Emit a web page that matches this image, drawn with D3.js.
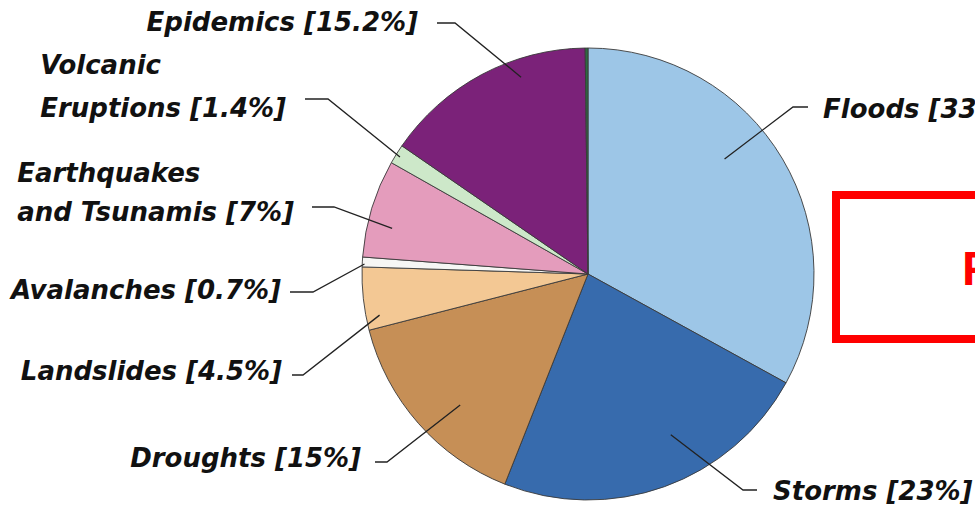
<!DOCTYPE html>
<html><head><meta charset="utf-8">
<script src="https://cdn.jsdelivr.net/npm/d3@7"></script>
<style>
html,body{margin:0;padding:0;background:#fff;overflow:hidden;}
svg{display:block;}
.lbl{font-family:"DejaVu Sans",sans-serif;font-weight:bold;font-style:italic;font-size:26px;fill:#111;}
</style></head>
<body>
<svg id="chart" width="975" height="509"></svg>
<script>
// Data
const categories = ["Floods","Storms","Droughts","Landslides","Avalanches","Earthquakes and Tsunamis","Volcanic Eruptions","Epidemics","Other"];
const shares = [33, 23, 15, 4.5, 0.7, 7, 1.4, 15.2, 0.2];
const labelLines = [
  ["Floods [33%]"],
  ["Storms [23%]"],
  ["Droughts [15%]"],
  ["Landslides [4.5%]"],
  ["Avalanches [0.7%]"],
  ["Earthquakes","and Tsunamis [7%]"],
  ["Volcanic","Eruptions [1.4%]"],
  ["Epidemics [15.2%]"],
  null
];
const colors = ["#9dc6e7","#376bad","#c68f56","#f3c894","#f6f6f4","#e49cbc","#cde8c9","#7b2279","#2c6b42"];

// Layout for labels (text position, leader line)
// side: "L" text right-aligned ending at x; "R" text starts at x
const labelLayout = [
  {side:"R", x:823, y:118, lineY:107, x0:808, x1:793, af:0.42, rf:0.79},
  {side:"R", x:773, y:500, lineY:490, x0:757, x1:743, af:0.41, rf:0.80},
  {side:"L", x:361, y:467, lineY:462, x0:375, x1:387, af:0.42, rf:0.81},
  {side:"L", x:282, y:380, lineY:375, x0:292, x1:303, af:0.20, rf:0.94},
  {side:"L", x:281, y:299, lineY:292, x0:290, x1:313, af:0.30, rf:0.99},
  {side:"L", x:294, y:221, lineY:207, x0:312, x1:334, af:0.35, rf:0.89, lh:39},
  {side:"L", x:286, y:117, lineY:99,  x0:305, x1:328, af:0.47, rf:0.98, lh:43},
  {side:"L", x:418, y:31,  lineY:23,  x0:437, x1:455, af:0.67, rf:0.92},
  null
];

const cx = 588, cy = 274, R = 226;
const svg = d3.select("#chart");

// red frame (partially outside view)
svg.append("rect").attr("x",836).attr("y",195).attr("width",300).attr("height",144)
  .attr("fill","#fff").attr("stroke","#ff0000").attr("stroke-width",8);
svg.append("text").attr("x",962).attr("y",285)
  .attr("font-family","'Liberation Sans Narrow','Liberation Sans',sans-serif")
  .attr("font-weight","bold").attr("font-size",48).attr("fill","#ff0000").text("F");

const pie = d3.pie().sort(null).value(d=>d).startAngle(0).endAngle(2*Math.PI);
const arcs = pie(shares);
const arc = d3.arc().innerRadius(0).outerRadius(R);

const g = svg.append("g").attr("transform",`translate(${cx},${cy})`);
g.selectAll("path").data(arcs).join("path")
  .attr("d",arc)
  .attr("fill",(d,i)=>colors[i])
  .attr("stroke","#3a3a3a").attr("stroke-width",0.9).attr("stroke-linejoin","round");

// labels
arcs.forEach((a,i)=>{
  const L = labelLayout[i];
  if(!L) return;
  const ang = a.startAngle + (a.endAngle - a.startAngle)*L.af;
  const r = R*L.rf;
  const px = cx + r*Math.sin(ang), py = cy - r*Math.cos(ang);
  svg.append("path")
    .attr("d", d3.line()([[L.x0,L.lineY],[L.x1,L.lineY],[px,py]]))
    .attr("fill","none").attr("stroke","#222").attr("stroke-width",1.3);
  const lines = labelLines[i];
  if(L.side==="R"){
    svg.append("text").attr("class","lbl").attr("x",L.x).attr("y",L.y).text(lines[0]);
  } else {
    const last = svg.append("text").attr("class","lbl").attr("x",L.x).attr("y",L.y)
      .attr("text-anchor","end").text(lines[lines.length-1]);
    if(lines.length>1){
      const w = last.node().getComputedTextLength();
      const startX = L.x - w;
      svg.append("text").attr("class","lbl").attr("x",startX).attr("y",L.y - L.lh).text(lines[0]);
    }
  }
});
</script>
</body></html>
